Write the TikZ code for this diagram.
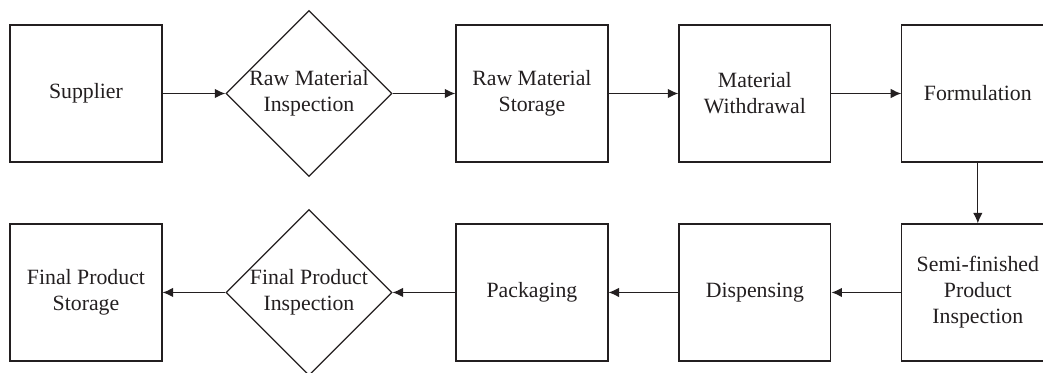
\documentclass[tikz,border=0pt]{standalone}
\usepackage{fontspec}
\setmainfont{Liberation Serif}
\usepackage{tikz}
\usetikzlibrary{arrows.meta,shapes.geometric}

\definecolor{ink}{HTML}{231F20}

\begin{document}
\begin{tikzpicture}[x=0.02cm,y=-0.02cm,>={Latex[length=0.21cm,width=0.19cm]},node distance=4.46cm,
    flow/.style={->,draw=ink,line width=0.7pt},
    box/.style={draw=ink,text=ink,line width=0.7pt,minimum width=3.04cm,minimum height=2.74cm,
        align=center,font=\fontsize{12.4}{14.8}\selectfont},
    check/.style={diamond,draw=ink,text=ink,line width=0.7pt,minimum width=3.32cm,minimum height=3.32cm,
        inner sep=0pt,align=center,font=\fontsize{12.4}{14.8}\selectfont}]
    \useasboundingbox (0,0) rectangle (1043,372);
    % top row
    \node[box]   (sup)                        at (86,93.5) {Supplier};
    \node[check] (rmi)  [right of = sup]      {Raw Material\\Inspection};
    \node[box]   (rms)  [right of = rmi]      {Raw Material\\Storage};
    \node[box]   (wdr)  [right of = rms]      {Material\\Withdrawal};
    \node[box]   (form) [right of = wdr]      {Formulation};
    % bottom row
    \node[box]   (semi) [below of = form, node distance=3.98cm] {Semi-finished\\Product\\Inspection};
    \node[box]   (disp) [left of = semi]      {Dispensing};
    \node[box]   (pack) [left of = disp]      {Packaging};
    \node[check] (fpi)  [left of = pack]      {Final Product\\Inspection};
    \node[box]   (fps)  [left of = fpi]       {Final Product\\Storage};
    \draw[flow] (sup) -- (rmi);
    \draw[flow] (rmi) -- (rms);
    \draw[flow] (rms) -- (wdr);
    \draw[flow] (wdr) -- (form);
    \draw[flow] (form) -- (semi);
    \draw[flow] (semi) -- (disp);
    \draw[flow] (disp) -- (pack);
    \draw[flow] (pack) -- (fpi);
    \draw[flow] (fpi) -- (fps);
\end{tikzpicture}
\end{document}
